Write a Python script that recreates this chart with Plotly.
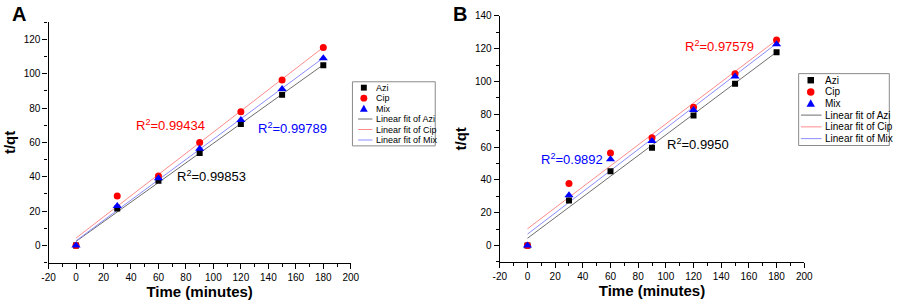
import numpy as np
import plotly.graph_objects as go

W, H = 899, 304
FONT = "Arial, Liberation Sans, sans-serif"

# ---- data ----
time_min = [0, 30, 60, 90, 120, 150, 180]
a_azi = [0, 21.5, 37.7, 53.9, 70.7, 87.8, 105.0]
a_cip = [0, 28.8, 40.4, 60.0, 77.9, 96.4, 115.4]
a_mix = [0, 23.0, 39.2, 56.4, 73.1, 91.2, 109.1]
b_azi = [0, 27.4, 45.2, 59.6, 79.2, 98.6, 117.8]
b_cip = [0, 37.8, 56.4, 65.6, 84.2, 104.6, 125.2]
b_mix = [0, 30.6, 52.6, 63.6, 82.6, 103.0, 122.6]
series_names = ["Azi", "Cip", "Mix"]
r2_a = ["0.99853", "0.99434", "0.99789"]
r2_b = ["0.9950", "0.97579", "0.9892"]
x_ticks = list(range(-20, 201, 20))
x_ticktext = [str(v) for v in x_ticks]

marker_colors = ["black", "red", "blue"]
marker_symbols = ["square", "circle", "triangle-up"]
marker_sizes = [6, 7, 8]
fit_colors = ["#6e6e6e", "#ff8c8c", "#8c8cff"]


def px2paper(x, y):
    return x / W, 1 - y / H


fig = go.Figure()

panels = [
    dict(data=[a_azi, a_cip, a_mix], xa="x", ya="y"),
    dict(data=[b_azi, b_cip, b_mix], xa="x2", ya="y2"),
]
for p in panels:
    for i, ys in enumerate(p["data"]):
        slope, icpt = np.polyfit(time_min, ys, 1)
        xs = np.array([time_min[0], time_min[-1]], dtype=float)
        fig.add_trace(go.Scatter(x=xs, y=slope * xs + icpt, mode="lines",
                                 line=dict(color=fit_colors[i], width=1),
                                 name="Linear fit of " + series_names[i],
                                 xaxis=p["xa"], yaxis=p["ya"], showlegend=False,
                                 hoverinfo="skip"))
    for i, ys in enumerate(p["data"]):
        fig.add_trace(go.Scatter(x=time_min, y=ys, mode="markers",
                                 marker=dict(color=marker_colors[i], symbol=marker_symbols[i],
                                             size=marker_sizes[i], line=dict(width=0)),
                                 name=series_names[i], xaxis=p["xa"], yaxis=p["ya"],
                                 showlegend=False))


def axis_common():
    return dict(showline=True, linecolor="black", linewidth=1.2, ticks="outside",
                ticklen=5, tickwidth=1.2, tickcolor="black", showgrid=False, zeroline=False,
                tickfont=dict(family=FONT, size=10, color="black"),
                minor=dict(ticks="outside", ticklen=3, tickwidth=1, tickcolor="black", dtick=10),
                mirror=False)


title_font = dict(family=FONT, size=15, color="black")
fig.update_layout(
    width=W, height=H, margin=dict(l=0, r=0, t=0, b=0),
    paper_bgcolor="white", plot_bgcolor="white", showlegend=False,
    xaxis=dict(**axis_common(), domain=[42.3 / W, 350 / W], range=[-20, 200],
               tickvals=x_ticks, ticktext=x_ticktext, anchor="y",
               title=dict(text="<b>Time (minutes)</b>", font=title_font, standoff=4)),
    yaxis=dict(**axis_common(), domain=[1 - 261.7 / H, 1 - 16.7 / H], range=[-10, 130],
               dtick=20, tick0=0, anchor="x",
               title=dict(text="<b>t/qt</b>", font=title_font, standoff=4)),
    xaxis2=dict(**axis_common(), domain=[501.7 / W, 811.7 / W], range=[-20, 200],
                tickvals=x_ticks, ticktext=x_ticktext, anchor="y2",
                title=dict(text="<b>Time (minutes)</b>", font=title_font, standoff=4)),
    yaxis2=dict(**axis_common(), domain=[1 - 261 / H, 1 - 10 / H], range=[-10, 140],
                dtick=20, tick0=0, anchor="x2",
                title=dict(text="<b>t/qt</b>", font=title_font, standoff=4)),
)

annotations = []
shapes = []

# panel letters
for letter, px in [("A", 12), ("B", 461)]:
    x, y = px2paper(px, 8)
    annotations.append(dict(text="<b>" + letter + "</b>", x=x, y=y, xref="paper", yref="paper",
                            showarrow=False, font=dict(family=FONT, size=20, color="black"),
                            xanchor="center", yanchor="middle"))

# R^2 labels (data coords)
r2_pos_a = [(98.4, 40.2), (69.0, 69.9), (157.6, 68.7)]
r2_pos_b = [(123.3, 62.0), (139.1, 121.4), (32.3, 52.4)]
for xa, ya, vals, pos in [("x", "y", r2_a, r2_pos_a), ("x2", "y2", r2_b, r2_pos_b)]:
    for i in range(3):
        annotations.append(dict(text="R<sup>2</sup>=" + vals[i], x=pos[i][0], y=pos[i][1],
                                xref=xa, yref=ya, showarrow=False,
                                font=dict(family=FONT, size=13, color=marker_colors[i]),
                                xanchor="center", yanchor="middle"))

# manual legends
legend_specs = [
    dict(box=(351.7, 77.3, 436, 142.7), rows=[83.3, 94, 104.7, 115.3, 126, 136.7],
         mx=363.3, tx=374, line=(357.5, 372), fs=9, ms=3.0),
    dict(box=(806, 69, 898.3, 142.3), rows=[75.7, 87.7, 99.3, 111.3, 123.3, 135.3],
         mx=818.3, tx=831, line=(808.3, 829.3), fs=10, ms=3.3),
]
labels = series_names + ["Linear fit of " + n for n in series_names]
for spec in legend_specs:
    x0, y0, x1, y1 = spec["box"]
    shapes.append(dict(type="rect", xref="paper", yref="paper",
                       x0=x0 / W, x1=x1 / W, y0=1 - y1 / H, y1=1 - y0 / H,
                       line=dict(color="#8a8a8a", width=1), fillcolor="white", layer="above"))
    for k, lab in enumerate(labels):
        ry = spec["rows"][k]
        tx, ty = px2paper(spec["tx"], ry)
        annotations.append(dict(text=lab, x=tx, y=ty, xref="paper", yref="paper", showarrow=False,
                                xanchor="left", yanchor="middle",
                                font=dict(family=FONT, size=spec["fs"], color="black")))
        if k < 3:
            cx, s = spec["mx"], spec["ms"]
            if k == 0:
                shapes.append(dict(type="rect", xref="paper", yref="paper",
                                   x0=(cx - s) / W, x1=(cx + s) / W, y0=1 - (ry + s) / H, y1=1 - (ry - s) / H,
                                   fillcolor="black", line=dict(width=0), layer="above"))
            elif k == 1:
                shapes.append(dict(type="circle", xref="paper", yref="paper",
                                   x0=(cx - s - 0.5) / W, x1=(cx + s + 0.5) / W,
                                   y0=1 - (ry + s + 0.5) / H, y1=1 - (ry - s - 0.5) / H,
                                   fillcolor="red", line=dict(width=0), layer="above"))
            else:
                t = s + 1
                pts = [(cx, ry - t), (cx - t, ry + t * 0.8), (cx + t, ry + t * 0.8)]
                path = "M " + " L ".join(f"{px / W},{1 - py / H}" for px, py in pts) + " Z"
                shapes.append(dict(type="path", xref="paper", yref="paper", path=path,
                                   fillcolor="blue", line=dict(width=0), layer="above"))
        else:
            lx0, lx1 = spec["line"]
            shapes.append(dict(type="line", xref="paper", yref="paper",
                               x0=lx0 / W, x1=lx1 / W, y0=1 - ry / H, y1=1 - ry / H,
                               line=dict(color=fit_colors[k - 3], width=1), layer="above"))

fig.update_layout(annotations=annotations, shapes=shapes)
fig.write_html("out.html", config={"displayModeBar": False},
               post_script="document.body.style.margin='0';document.body.style.overflow='hidden';")
